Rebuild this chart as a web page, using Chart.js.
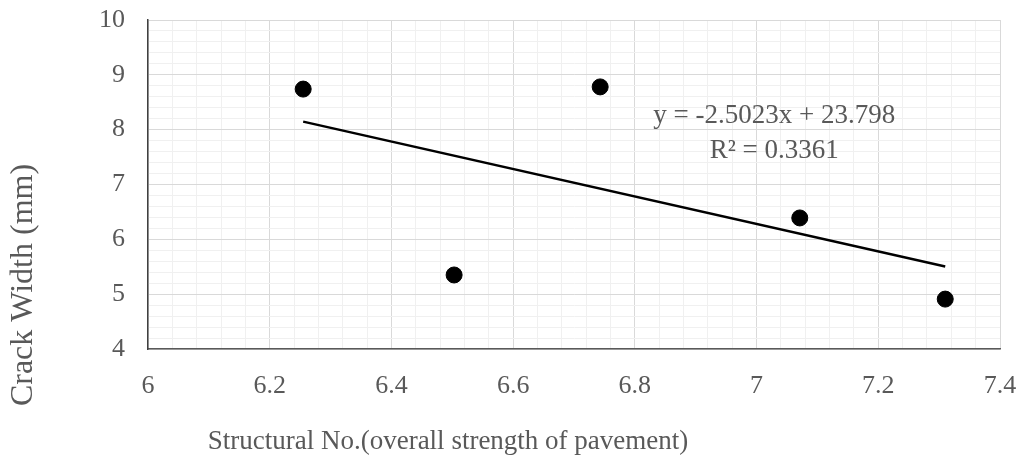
<!DOCTYPE html>
<html>
<head>
<meta charset="utf-8">
<script src="https://cdn.jsdelivr.net/npm/chart.js@4.4.1/dist/chart.umd.min.js"></script>
<style>
  html, body { margin: 0; padding: 0; background: #fff; }
  #wrap { width: 1019px; height: 458px; }
</style>
</head>
<body>
<div id="wrap"><canvas id="crackChart" width="1019" height="458"></canvas></div>
<script>
// Structural number vs. crack width
const structuralNo = [6.255, 6.503, 6.743, 7.071, 7.310];
const crackWidth = [8.74, 5.35, 8.78, 6.39, 4.91];

// linear trendline as reported
const slope = -2.5023;
const intercept = 23.798;
const rSquared = 0.3361;

const xTicks = [6, 6.2, 6.4, 6.6, 6.8, 7, 7.2, 7.4];
const yTicks = [4, 5, 6, 7, 8, 9, 10];

const xTitle = 'Structural No.(overall strength of pavement)';
const yTitle = 'Crack Width (mm)';

const textColor = '#595959';
const serif = '"Liberation Serif", "Times New Roman", serif';

const xMin = Math.min(...structuralNo);
const xMax = Math.max(...structuralNo);
const trend = [
  { x: xMin, y: slope * xMin + intercept },
  { x: xMax, y: slope * xMax + intercept }
];

const isMajor = (v, list) => list.some(t => Math.abs(t - v) < 1e-6);

const fmt = v => (Math.round(v * 10) / 10).toString();

// titles and the trendline equation
const labelsPlugin = {
  id: 'labelsPlugin',
  afterDraw(chart) {
    const { ctx, scales } = chart;
    ctx.save();
    ctx.fillStyle = textColor;
    ctx.textAlign = 'center';
    ctx.textBaseline = 'alphabetic';

    ctx.font = '27px ' + serif;
    ctx.fillText(xTitle, 448, 449);

    ctx.save();
    ctx.translate(32, 285);
    ctx.rotate(-Math.PI / 2);
    ctx.font = '32px ' + serif;
    ctx.fillText(yTitle, 0, 0);
    ctx.restore();

    const ex = scales.x.getPixelForValue(7.029);
    const ey = scales.y.getPixelForValue(8.12);
    ctx.font = '27px ' + serif;
    ctx.fillText('y = ' + slope + 'x + ' + intercept, ex, ey);
    ctx.fillText('R\u00b2 = ' + rSquared, ex, ey + 35);
    ctx.restore();
  }
};

new Chart(document.getElementById('crackChart'), {
  type: 'scatter',
  data: {
    datasets: [
      {
        label: 'Crack width',
        data: structuralNo.map((x, i) => ({ x: x, y: crackWidth[i] })),
        backgroundColor: '#000',
        borderColor: '#000',
        pointRadius: 8,
        pointHoverRadius: 8
      },
      {
        label: 'Linear trend',
        type: 'line',
        data: trend,
        borderColor: '#000',
        borderWidth: 2.5,
        pointRadius: 0,
        fill: false
      }
    ]
  },
  options: {
    responsive: false,
    animation: false,
    events: [],
    layout: { padding: { top: 20, right: 19, left: 0, bottom: 0 } },
    plugins: {
      legend: { display: false },
      tooltip: { enabled: false }
    },
    scales: {
      x: {
        type: 'linear',
        min: 6,
        max: 7.4,
        afterFit(scale) {
          scale.height = 109;
          scale.paddingLeft = 0;
          scale.paddingRight = 0;
        },
        border: { display: true, color: '#595959', width: 1.5 },
        grid: {
          drawTicks: false,
          color: ctx => isMajor(ctx.tick.value, xTicks) ? '#d9d9d9' : '#f0f0f0',
          lineWidth: 1
        },
        ticks: {
          stepSize: 0.04,
          autoSkip: false,
          maxRotation: 0,
          padding: 22,
          color: textColor,
          font: { family: serif, size: 26 },
          callback: v => isMajor(v, xTicks) ? fmt(v) : ''
        }
      },
      y: {
        type: 'linear',
        min: 4,
        max: 10,
        afterFit(scale) {
          scale.width = 148;
          scale.paddingTop = 0;
          scale.paddingBottom = 0;
        },
        border: { display: true, color: '#404040', width: 1.5 },
        grid: {
          drawTicks: false,
          color: ctx => isMajor(ctx.tick.value, yTicks) ? '#d9d9d9' : '#f0f0f0',
          lineWidth: 1
        },
        ticks: {
          stepSize: 0.2,
          autoSkip: false,
          padding: 23,
          color: textColor,
          font: { family: serif, size: 26 },
          callback: v => isMajor(v, yTicks) ? fmt(v) : ''
        }
      }
    }
  },
  plugins: [labelsPlugin]
});
</script>
</body>
</html>
